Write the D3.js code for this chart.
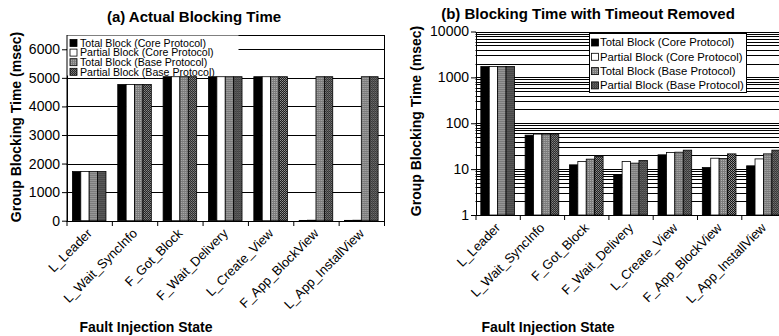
<!DOCTYPE html>
<html>
<head>
<meta charset="utf-8">
<script src="https://cdn.jsdelivr.net/npm/d3@7"></script>
<style>
  body { margin: 0; background: #fff; }
  svg { display: block; }
  text { font-family: "Liberation Sans", Arial, sans-serif; fill: #000; }
</style>
</head>
<body>
<div id="chart"></div>
<script>
// categories and series
const categories = ["L_Leader", "L_Wait_SyncInfo", "F_Got_Block", "F_Wait_Delivery",
  "L_Create_View", "F_App_BlockView", "L_App_InstallView"];
const seriesNames = ["Total Block (Core Protocol)", "Partial Block (Core Protocol)",
  "Total Block (Base Protocol)", "Partial Block (Base Protocol)"];

// (a) actual blocking time, msec
const actualTotalCore = [1720, 4770, 5040, 5040, 5040, 10.8, 11.8];
const actualPartialCore = [1720, 4770, 5040, 5040, 5040, 17.3, 16.7];
const actualTotalBase = [1720, 4770, 5040, 5040, 5040, 5040, 5040];
const actualPartialBase = [1720, 4770, 5040, 5040, 5040, 5040, 5040];

// (b) blocking time with timeout removed, msec
const removedTotalCore = [1720, 55, 12.4, 7.5, 20.5, 10.8, 11.8];
const removedPartialCore = [1720, 58, 14.6, 14.6, 23, 17.3, 16.7];
const removedTotalBase = [1720, 58, 16.5, 13.5, 23.4, 17, 21.5];
const removedPartialBase = [1720, 58, 18.8, 15.4, 25.9, 21.5, 25.9];

const linearTicks = [0, 1000, 2000, 3000, 4000, 5000, 6000];
const logTicks = [1, 10, 100, 1000, 10000];

const W = 779, H = 336;
const svg = d3.select("#chart").append("svg").attr("width", W).attr("height", H);

// bar fill patterns
let defs = svg.append("defs");
let pg = defs.append("pattern").attr("id", "patGray")
  .attr("width", 2).attr("height", 2).attr("patternUnits", "userSpaceOnUse");
pg.append("rect").attr("width", 2).attr("height", 2).attr("fill", "#7c7c7c");
pg.append("rect").attr("width", 1).attr("height", 1).attr("fill", "#b0b0b0");
let pd = defs.append("pattern").attr("id", "patDark")
  .attr("width", 2).attr("height", 2).attr("patternUnits", "userSpaceOnUse");
pd.append("rect").attr("width", 2).attr("height", 2).attr("fill", "#161616");
pd.append("rect").attr("width", 1).attr("height", 1).attr("fill", "#9a9a9a");
pd.append("rect").attr("x", 1).attr("y", 1).attr("width", 1).attr("height", 1).attr("fill", "#7a7a7a");

const fills = ["#000", "#fff", "url(#patGray)", "url(#patDark)"];

function drawPanel(p) {
  let g = svg.append("g");
  let x = d3.scaleBand().domain(categories).range([p.x0, p.x1]).padding(0);
  let xInner = d3.scaleBand().domain(d3.range(seriesNames.length))
    .range([x.bandwidth() * p.inset, x.bandwidth() * (1 - p.inset)]);
  let y = p.y;
  let y0 = y.range()[0], yTop = y.range()[1];

  // gridlines
  g.append("g")
    .selectAll("line")
    .data(p.grid)
    .join("line")
    .attr("x1", p.x0).attr("x2", p.x1)
    .attr("y1", d => Math.round(y(d)) + 0.5).attr("y2", d => Math.round(y(d)) + 0.5)
    .attr("stroke", "#000").attr("stroke-width", 1);

  if (p.box) {
    g.append("rect")
      .attr("x", p.x0 + 0.5).attr("y", Math.round(yTop) + 0.5)
      .attr("width", p.x1 - p.x0).attr("height", Math.round(y0) - Math.round(yTop))
      .attr("fill", "none").attr("stroke", "#000");
  }

  // bars
  let rows = categories.map((c, i) => ({ c: c, v: p.series.map(s => s[i]) }));
  g.append("g")
    .selectAll("g")
    .data(rows)
    .join("g")
    .attr("transform", d => "translate(" + x(d.c) + ",0)")
    .selectAll("rect")
    .data(d => d.v.map((v, k) => ({ v: v, k: k })))
    .join("rect")
    .attr("x", d => xInner(d.k))
    .attr("width", xInner.bandwidth())
    .attr("y", d => y(d.v))
    .attr("height", d => y0 - y(d.v))
    .attr("fill", d => fills[d.k])
    .attr("stroke", "#000")
    .attr("stroke-width", 0.8);

  // y axis
  let yAxis = g.append("g")
    .attr("transform", "translate(" + (p.x0 + 0.5) + ",0)")
    .call(d3.axisLeft(y).tickValues(p.ticks).tickFormat(d3.format("d")).tickSize(5).tickPadding(2).tickSizeOuter(0));
  yAxis.selectAll("text").style("font-size", "14px").attr("fill", "#000");
  yAxis.selectAll("line, path").attr("stroke", "#000");

  // x axis
  let xa = g.append("g");
  xa.append("line")
    .attr("x1", p.x0).attr("x2", p.x1)
    .attr("y1", Math.round(y0) + 0.5).attr("y2", Math.round(y0) + 0.5)
    .attr("stroke", "#000");
  xa.selectAll("line.tick")
    .data(categories.concat(["end"]))
    .join("line")
    .attr("class", "tick")
    .attr("x1", d => (d === "end" ? p.x1 : x(d)) + 0.5)
    .attr("x2", d => (d === "end" ? p.x1 : x(d)) + 0.5)
    .attr("y1", Math.round(y0)).attr("y2", Math.round(y0) + 5)
    .attr("stroke", "#000");
  xa.selectAll("text")
    .data(categories)
    .join("text")
    .attr("text-anchor", "end")
    .attr("transform", d => "translate(" + (x(d) + x.bandwidth() / 2 - 3) + "," + (y0 + 7) + ") rotate(-45)")
    .attr("dy", ".71em")
    .style("font-size", "13px")
    .text(d => d);

  // titles
  svg.append("text")
    .attr("x", p.titleX).attr("y", p.titleY)
    .attr("text-anchor", "middle")
    .style("font-size", "15px").style("font-weight", "bold")
    .text(p.title);
  svg.append("text")
    .attr("transform", "translate(" + p.yTitleX + "," + p.yTitleY + ") rotate(-90)")
    .attr("text-anchor", "middle")
    .style("font-size", "14px").style("font-weight", "bold")
    .text("Group Blocking Time (msec)");
  svg.append("text")
    .attr("x", p.xTitleX).attr("y", 332)
    .attr("text-anchor", "middle")
    .style("font-size", "14px").style("font-weight", "bold")
    .text("Fault Injection State");

  // legend
  let lg = svg.append("g").attr("transform", "translate(" + p.legend.x + "," + p.legend.y + ")");
  lg.append("rect")
    .attr("x", 0.5).attr("y", 0.5)
    .attr("width", p.legend.w).attr("height", p.legend.h)
    .attr("fill", "#fff")
    .attr("stroke", p.legend.border ? "#000" : "none");
  let item = lg.selectAll("g")
    .data(seriesNames)
    .join("g")
    .attr("transform", (d, i) => "translate(0," + (p.legend.top + i * p.legend.step) + ")");
  item.append("rect")
    .attr("x", p.legend.mx).attr("y", -3.5)
    .attr("width", 7).attr("height", 7)
    .attr("fill", (d, i) => fills[i])
    .attr("stroke", "#000").attr("stroke-width", 0.8);
  item.append("text")
    .attr("x", p.legend.tx).attr("dy", ".35em")
    .style("font-size", p.legend.fs + "px")
    .text(d => d);
}

drawPanel({
  x0: 66.5, x1: 384, inset: 0.13,
  y: d3.scaleLinear().domain([0, 6500]).range([220.7, 35]),
  ticks: linearTicks,
  grid: linearTicks.slice(1),
  box: true,
  series: [actualTotalCore, actualPartialCore, actualTotalBase, actualPartialBase],
  title: "(a) Actual Blocking Time", titleX: 194, titleY: 22,
  yTitleX: 21, yTitleY: 127, xTitleX: 146,
  legend: { x: 67, y: 35, w: 171, h: 40, border: false, top: 8, step: 9.6, mx: 3, tx: 13, fs: 10.6 }
});

let logGrid = [];
[1, 10, 100, 1000].forEach(b => d3.range(1, 10).forEach(m => logGrid.push(b * m)));
logGrid = logGrid.slice(1).concat([10000]);

drawPanel({
  x0: 475.5, x1: 785.6, inset: 0.12,
  y: d3.scaleLog().domain([1, 10000]).range([215, 31.5]),
  ticks: logTicks,
  grid: logGrid,
  box: false,
  series: [removedTotalCore, removedPartialCore, removedTotalBase, removedPartialBase],
  title: "(b) Blocking Time with Timeout Removed", titleX: 588, titleY: 19,
  yTitleX: 421, yTitleY: 121, xTitleX: 548,
  legend: { x: 589, y: 33, w: 157, h: 59, border: true, top: 9.5, step: 14.3, mx: 2.5, tx: 11, fs: 11.3 }
});
</script>
</body>
</html>
